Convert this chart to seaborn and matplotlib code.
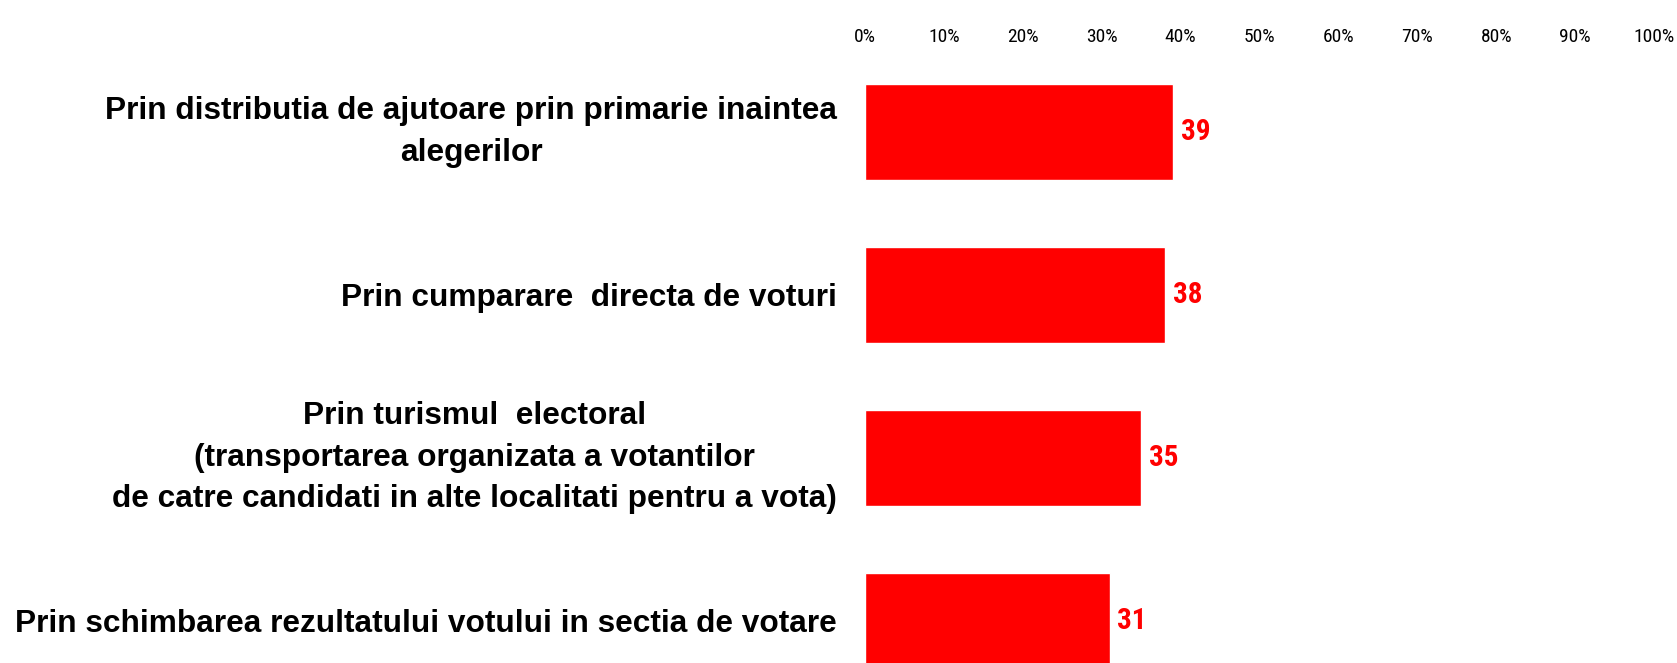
import seaborn as sns
import matplotlib.pyplot as plt
import pandas as pd

categories = [
    "Prin distributia de ajutoare prin primarie inaintea\nalegerilor",
    "Prin cumparare  directa de voturi",
    "Prin turismul  electoral\n(transportarea organizata a votantilor\nde catre candidati in alte localitati pentru a vota)",
    "Prin schimbarea rezultatului votului in sectia de votare",
]
values = [39, 38, 35, 31]
tick_values = list(range(0, 101, 10))
tick_labels = [f"{t}%" for t in tick_values]

df = pd.DataFrame({"cat": categories, "val": values})

sns.set_style("white")
plt.rcParams['font.family'] = ['Liberation Sans', 'DejaVu Sans']
narrow = ['Roboto Condensed', 'DejaVu Sans']

W, H = 1677, 663
fig = plt.figure(figsize=(W / 100, H / 100), dpi=100)
# axes: x from 865px to 1654px, top at 50px, bottom at figure edge
ax = fig.add_axes([865 / W, 0, 789 / W, (H - 50) / H])

sns.barplot(data=df, x="val", y="cat", color="#ff0000", saturation=1,
            width=0.59, orient="h", ax=ax)

ax.set_xlim(0, 100)
ax.set_ylim(3.258, -0.503)
ax.set_xlabel("")
ax.set_ylabel("")
for s in ax.spines.values():
    s.set_visible(False)

ax.xaxis.tick_top()
ax.set_xticks(tick_values)
ax.set_xticklabels(tick_labels, fontsize=14, color="black", family=narrow)
ax.tick_params(axis="x", length=0, pad=3)
ax.tick_params(axis="y", length=0, pad=20)

for lab in ax.get_yticklabels():
    lab.set_fontsize(22.8)
    lab.set_fontweight("bold")
    lab.set_color("black")
    lab.set_multialignment("center")
    lab.set_linespacing(1.5)
    if "\n" in lab.get_text():
        lab.set_verticalalignment("center")

for i, v in enumerate(values):
    ax.text(v + 1.0, i, str(v), color="#ff0000", fontsize=21, fontweight="semibold",
            va="center", ha="left", family=narrow)

fig.savefig("out.png", dpi=100, facecolor="white")
